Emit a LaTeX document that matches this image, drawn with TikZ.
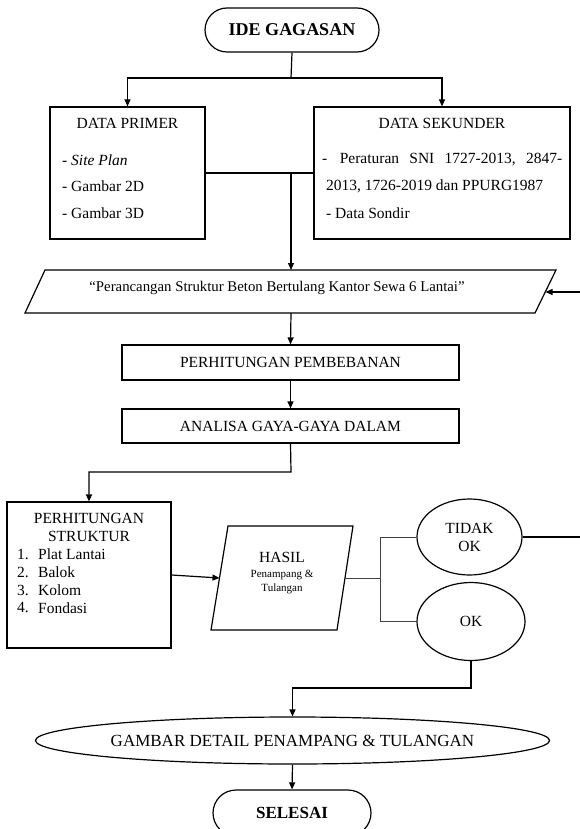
\documentclass[tikz,border=0pt]{standalone}
\usepackage{fontspec}
\setmainfont{Liberation Serif}
\usetikzlibrary{shapes.geometric, shapes.misc, arrows.meta, positioning}

\tikzset{
  garis/.style={line width=1.2pt},
  panah/.style={garis, -{Triangle[length=7pt,width=6pt]}},
  tipis/.style={line width=0.6pt, black!75},
  kotak/.style={draw, line width=1.2pt, rectangle, inner sep=0pt},
  terminal/.style={draw, line width=1.2pt, rounded rectangle, inner sep=0pt},
  proses/.style={draw, line width=1.2pt, ellipse, inner sep=0pt},
  teks/.style={font=\fontsize{15.5}{18}\selectfont, inner sep=0pt},
}

\begin{document}
\begin{tikzpicture}[x=1pt, y=-1pt]
    \useasboundingbox (0,0) rectangle (580,829);

    % Start
    \node[terminal, minimum width=174pt, minimum height=44pt,
          font=\fontsize{18}{20}\selectfont\bfseries] (ide) at (292,30) {IDE GAGASAN};

    % Data
    \node[kotak, minimum width=155pt, minimum height=132pt] (primer) at (127.5,173) {};
    \node[kotak, minimum width=256pt, minimum height=132pt] (sekunder) at (442,173) {};
    \node[teks] (primerjudul) at (127.5,123) {DATA PRIMER};
    \node[teks, anchor=west] (primer1) at (62,160) {- \textit{Site Plan}};
    \node[teks, anchor=west] (primer2) at (62,186) {- Gambar 2D};
    \node[teks, anchor=west] (primer3) at (62,213) {- Gambar 3D};
    \node[teks] (sekunderjudul) at (442,123) {DATA SEKUNDER};
    \node[teks, anchor=west] (sekunder1) at (322,160) {\hbox to 240pt{-\hspace{0.8em}Peraturan\hfill SNI\hfill 1727-2013,\hfill 2847-}};
    \node[teks, anchor=west] (sekunder2) at (326,186) {2013, 1726-2019 dan PPURG1987};
    \node[teks, anchor=west] (sekunder3) at (326,213) {- Data Sondir};

    % Judul
    \draw[garis] (25,313) -- (45,270) -- (556,270) -- (535,313) -- cycle;
    \node[teks, font=\fontsize{14.8}{18}\selectfont] (judul) at (277,288) {“Perancangan Struktur Beton Bertulang Kantor Sewa 6 Lantai”};
    \coordinate (judulatas) at (291,270);
    \coordinate (judulbawah) at (291,313);
    \coordinate (judulkanan) at (545.5,292);

    % Proses
    \node[kotak, minimum width=337pt, minimum height=35pt, teks] (beban) at (290.5,362.5) {PERHITUNGAN PEMBEBANAN};
    \node[kotak, minimum width=337pt, minimum height=34pt, teks] (analisa) at (290.5,426) {ANALISA GAYA-GAYA DALAM};

    % Struktur
    \node[kotak, minimum width=164pt, minimum height=146pt] (struktur) at (89,575) {};
    \node[teks] (strukturjudul1) at (89,518) {PERHITUNGAN};
    \node[teks] (strukturjudul2) at (89,536) {STRUKTUR};
    \foreach \no/\isi/\yy in {1/Plat Lantai/554, 2/Balok/572, 3/Kolom/590, 4/Fondasi/608}{
        \node[teks, anchor=west] (nomor\no) at (17,\yy) {\no.};
        \node[teks, anchor=west] (item\no) at (38,\yy) {\isi};
    }

    % Hasil
    \draw[garis] (211,630) -- (228,526) -- (353,526) -- (337,630) -- cycle;
    \coordinate (hasilkiri) at (219.5,578);
    \coordinate (hasilkanan) at (345,578);
    \node[teks] (hasil) at (282,557) {HASIL};
    \node[inner sep=0pt, font=\fontsize{11}{13}\selectfont] (hasil2) at (282,575) {Penampang \&};
    \node[inner sep=0pt, font=\fontsize{11}{13}\selectfont] (hasil3) at (282,589) {Tulangan};

    % Cek
    \node[proses, minimum width=105pt, minimum height=76pt, teks, align=center] (tidak) at (469.5,537) {TIDAK\\OK};
    \node[proses, minimum width=108pt, minimum height=78pt, teks] (ok) at (471,621.5) {OK};

    % Akhir
    \node[proses, minimum width=461pt, minimum height=47pt, font=\fontsize{17}{20}\selectfont] (gambar) at (292.5,740.5) {GAMBAR DETAIL PENAMPANG \& TULANGAN};
    \node[terminal, minimum width=158pt, minimum height=46pt,
          font=\fontsize{17}{20}\selectfont\bfseries] (selesai) at (292,813) {SELESAI};

    % Titik bantu
    \coordinate (cabang) at (291,78);
    \coordinate (gabung) at (291,173);
    \coordinate (belok1) at (291,472);
    \coordinate (pilih) at (380,578);
    \coordinate (balik1) at (590,537);
    \coordinate (balik2) at (590,292);
    \coordinate (belok2) at (471,688);

    % Garis
    \draw[garis] (ide.south) -- (cabang);
    \draw[panah] (cabang) -| (primer.north);
    \draw[panah] (cabang) -| (sekunder.north);
    \draw[garis] (primer.east) -- (sekunder.west);
    \draw[panah] (gabung) -- (judulatas);
    \draw[panah] (judulbawah) -- (beban.north);
    \draw[panah] (beban.south) -- (analisa.north);
    \draw[panah] (analisa.south) -- (belok1) -| (struktur.north);
    \draw[panah] (struktur.east) -- (hasilkiri);
    \draw[tipis] (hasilkanan) -- (pilih);
    \draw[tipis] (pilih) |- (tidak.west);
    \draw[tipis] (pilih) |- (ok.west);
    \draw[panah] (tidak.east) -- (balik1) -- (balik2) -- (judulkanan);
    \draw[panah] (ok.south) -- (belok2) -| (gambar.north);
    \draw[panah] (gambar.south) -- (selesai.north);
\end{tikzpicture}
\end{document}
